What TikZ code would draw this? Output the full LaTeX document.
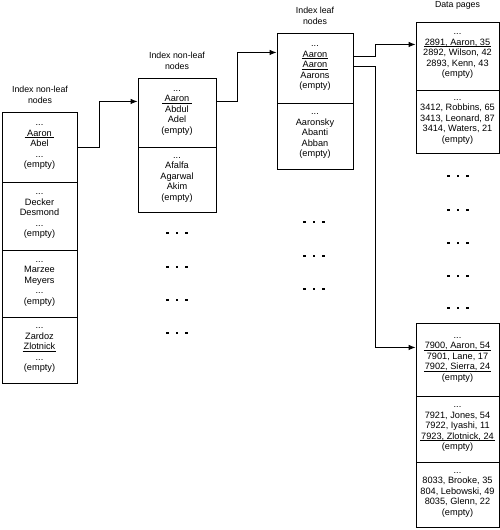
\documentclass[tikz,border=0pt]{standalone}
\usepackage{fontspec}
\setmainfont{Liberation Sans}
\usetikzlibrary{arrows.meta}
\newcommand\ulx[1]{\setbox0\hbox{#1}\leavevmode\makebox[0pt][l]{\hspace{-1pt}\rule[-1.6pt]{\dimexpr\wd0+2pt\relax}{0.75pt}}\box0}
\begin{document}
\begin{tikzpicture}[x=1pt,y=-1pt,
  cell/.style={draw, line width=0.9pt, inner sep=0pt, align=center,
    anchor=north, font=\fontsize{9.2}{10.5}\selectfont},
  lbl/.style={inner sep=0pt, align=center, font=\fontsize{8.8}{11}\selectfont},
  conn/.style={line width=0.9pt, -{Latex[length=7pt,width=5.5pt]}},
  bigdot/.style={fill=black}
]
\useasboundingbox (0,0) rectangle (500,530);
\fill[white] (0,0) rectangle (500,530);

% labels
\node[lbl] (l1) at (40,95) {Index non-leaf\\nodes};
\node[lbl] (l2) at (177,60.5) {Index non-leaf\\nodes};
\node[lbl] (l3) at (315,16) {Index leaf\\nodes};
\node[lbl] (l4) at (457.5,5) {Data pages};

% column 1
\node[cell, minimum width=75, minimum height=70] (c1a) at (39.5,112)
  {...\\\ulx{\,Aaron\,}\\Abel\\...\\(empty)};
\node[cell, minimum width=75, minimum height=68] (c1b) at (39.5,182)
  {...\\Decker\\Desmond\\...\\(empty)};
\node[cell, minimum width=75, minimum height=67] (c1c) at (39.5,250)
  {...\\Marzee\\Meyers\\...\\(empty)};
\node[cell, minimum width=75, minimum height=66] (c1d) at (39.5,317)
  {...\\Zardoz\\\ulx{Zlotnick}\\...\\(empty)};

% column 2
\node[cell, minimum width=78, minimum height=69] (c2a) at (177,78)
  {...\\\ulx{\,Aaron\,}\\Abdul\\Adel\\(empty)};
\node[cell, minimum width=78, minimum height=65] (c2b) at (177,147)
  {...\\Afalfa\\Agarwal\\Akim\\(empty)};

% column 3
\node[cell, minimum width=76, minimum height=70] (c3a) at (315,33)
  {...\\\ulx{Aaron}\\\ulx{Aaron}\\Aarons\\(empty)};
\node[cell, minimum width=76, minimum height=66] (c3b) at (315,103)
  {...\\Aaronsky\\Abanti\\Abban\\(empty)};

% column 4
\node[cell, minimum width=83, minimum height=68] (d1) at (457.5,22)
  {...\\\ulx{2891, Aaron, 35}\\2892, Wilson, 42\\2893, Kenn, 43\\(empty)};
\node[cell, minimum width=83, minimum height=63] (d2) at (457.5,90)
  {...\\3412, Robbins, 65\\3413, Leonard, 87\\3414, Waters, 21\\(empty)};
\node[cell, minimum width=83, minimum height=73] (d3) at (457.5,323)
  {...\\\ulx{7900, Aaron, 54}\\7901, Lane, 17\\\ulx{7902, Sierra, 24}\\(empty)};
\node[cell, minimum width=83, minimum height=66] (d4) at (457.5,396)
  {...\\7921, Jones, 54\\7922, Iyashi, 11\\\ulx{7923, Zlotnick, 24}\\(empty)};
\node[cell, minimum width=83, minimum height=65] (d5) at (457.5,462)
  {...\\8033, Brooke, 35\\804, Lebowski, 49\\8035, Glenn, 22\\(empty)};

% ellipsis dots
\foreach \cx/\cy in {177/233,177/267,177/300,177/333,
                     314/222,314/256,314/289,
                     458/176,458/210,458/243,458/276,458/308}{
  \foreach \dx in {-9.5,0,9.5}{
    \fill[bigdot] (\cx+\dx-1.4,\cy-1.4) rectangle (\cx+\dx+1.4,\cy+1.4);
  }
}

% connectors
\draw[conn] (c1a.east) -- ++(22,0) |- ([yshift=11.5pt]c2a.west);
\draw[conn] ([yshift=11.5pt]c2a.east) -- ++(21,0) |- ([yshift=16pt]c3a.west);
\draw[conn] ([yshift=12pt]c3a.east) -- ++(22,0) |- ([yshift=12pt]d1.west);
\draw[conn] ([yshift=2pt]c3a.east) -- ++(22,0) |- ([yshift=12.5pt]d3.west);
\end{tikzpicture}
\end{document}
